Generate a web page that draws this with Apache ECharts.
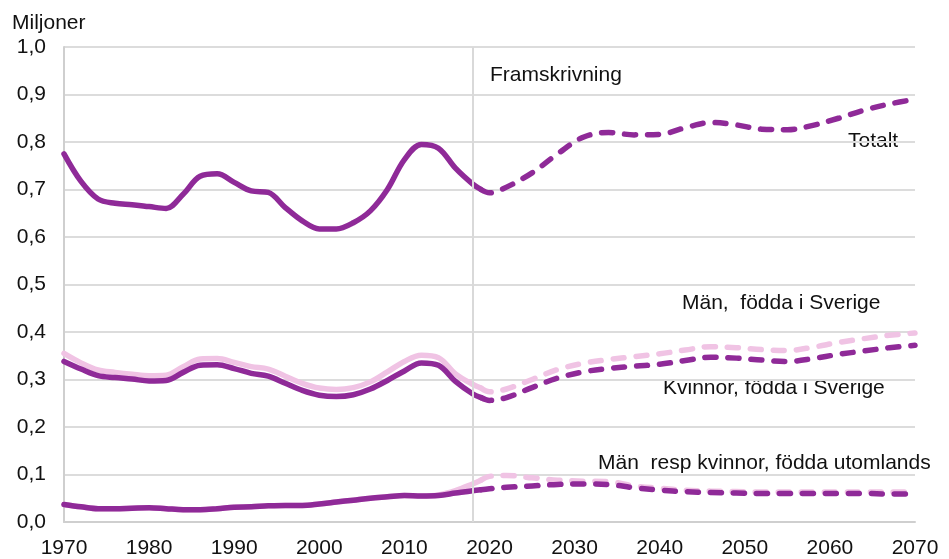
<!DOCTYPE html>
<html>
<head>
<meta charset="utf-8">
<title>Miljoner</title>
<script src="https://cdn.jsdelivr.net/npm/echarts@6/dist/echarts.min.js"></script>
<style>
  html, body { margin: 0; padding: 0; background: #fff; }
  #chart { width: 949px; height: 559px; }
</style>
</head>
<body>
<div id="chart"></div>
<script>
const histYears = [1970, 1972, 1974, 1976, 1978, 1980, 1982, 1984, 1986, 1988, 1990, 1992, 1994, 1996, 1998, 2000, 2002, 2004, 2006, 2008, 2010, 2012, 2014, 2016, 2018, 2019]
const progYears = [2019, 2020, 2022, 2025, 2028, 2031, 2034, 2037, 2040, 2043, 2046, 2049, 2052, 2055, 2058, 2061, 2064, 2067, 2070]

// Totalt
const totalHist = [0.775, 0.717, 0.680, 0.671, 0.668, 0.664, 0.660, 0.690, 0.728, 0.733, 0.715, 0.697, 0.694, 0.662, 0.634, 0.617, 0.617, 0.630, 0.655, 0.700, 0.763, 0.795, 0.787, 0.745, 0.712, 0.700]
const totalProg = [0.700, 0.693, 0.705, 0.735, 0.775, 0.810, 0.820, 0.815, 0.816, 0.830, 0.841, 0.836, 0.827, 0.826, 0.835, 0.850, 0.867, 0.880, 0.890]

// Män, födda i Sverige
const menSweHist = [0.355, 0.335, 0.320, 0.315, 0.311, 0.308, 0.309, 0.327, 0.343, 0.344, 0.336, 0.327, 0.322, 0.307, 0.292, 0.282, 0.279, 0.283, 0.295, 0.316, 0.338, 0.351, 0.346, 0.312, 0.290, 0.282]
const menSweProg = [0.282, 0.274, 0.280, 0.300, 0.321, 0.334, 0.342, 0.348, 0.354, 0.362, 0.369, 0.367, 0.363, 0.361, 0.368, 0.378, 0.386, 0.393, 0.398]

// Kvinnor, födda i Sverige
const womenSweHist = [0.338, 0.322, 0.308, 0.304, 0.301, 0.297, 0.298, 0.315, 0.330, 0.331, 0.323, 0.313, 0.307, 0.292, 0.277, 0.267, 0.264, 0.268, 0.280, 0.298, 0.318, 0.335, 0.330, 0.296, 0.270, 0.262]
const womenSweProg = [0.262, 0.256, 0.262, 0.283, 0.303, 0.316, 0.323, 0.328, 0.332, 0.340, 0.347, 0.345, 0.341, 0.338, 0.344, 0.353, 0.360, 0.367, 0.372]

// Män resp kvinnor, födda utomlands
const menForHist = [0.037, 0.032, 0.028, 0.028, 0.029, 0.030, 0.028, 0.026, 0.026, 0.028, 0.031, 0.032, 0.034, 0.035, 0.035, 0.038, 0.042, 0.046, 0.050, 0.053, 0.056, 0.055, 0.057, 0.066, 0.080, 0.088]
const menForProg = [0.088, 0.096, 0.098, 0.093, 0.088, 0.086, 0.085, 0.076, 0.071, 0.067, 0.065, 0.064, 0.063, 0.063, 0.063, 0.063, 0.063, 0.063, 0.063]
const womenForHist = [0.037, 0.032, 0.028, 0.028, 0.029, 0.030, 0.028, 0.026, 0.026, 0.028, 0.031, 0.032, 0.034, 0.035, 0.035, 0.038, 0.042, 0.046, 0.050, 0.053, 0.056, 0.055, 0.056, 0.061, 0.066, 0.068]
const womenForProg = [0.068, 0.070, 0.073, 0.076, 0.079, 0.080, 0.079, 0.072, 0.067, 0.064, 0.062, 0.061, 0.060, 0.060, 0.060, 0.060, 0.060, 0.059, 0.059]

const xTicks = [1970, 1980, 1990, 2000, 2010, 2020, 2030, 2040, 2050, 2060, 2070]
const prognosisStart = 2018

const DARK = '#8f2a98'
const PINK = '#f0c3e4'
const FONT = "'Liberation Sans', Arial, sans-serif"

function pairs(years, vals) {
  return years.map((y, i) => [y, vals[i]])
}

function makeLine(name, years, vals, color, dashed) {
  return {
    name: name,
    type: 'line',
    smooth: 0.35,
    symbol: 'none',
    silent: true,
    lineStyle: {
      color: color,
      width: 5.5,
      type: dashed ? [11, 12] : 'solid',
      cap: 'round',
      join: 'round'
    },
    data: pairs(years, vals)
  }
}

const series = [
  makeLine('Totalt', histYears, totalHist, DARK, false),
  makeLine('Totalt', progYears, totalProg, DARK, true),
  makeLine('Män, födda i Sverige', histYears, menSweHist, PINK, false),
  makeLine('Män, födda i Sverige', progYears, menSweProg, PINK, true),
  makeLine('Kvinnor, födda i Sverige', histYears, womenSweHist, DARK, false),
  makeLine('Kvinnor, födda i Sverige', progYears, womenSweProg, DARK, true),
  makeLine('Män, födda utomlands', histYears, menForHist, PINK, false),
  makeLine('Män, födda utomlands', progYears, menForProg, PINK, true),
  makeLine('Kvinnor, födda utomlands', histYears, womenForHist, DARK, false),
  makeLine('Kvinnor, födda utomlands', progYears, womenForProg, DARK, true)
]

// vertical separator between history and prognosis
series.unshift({
  type: 'line',
  data: [],
  silent: true,
  markLine: {
    silent: true,
    symbol: 'none',
    label: { show: false },
    lineStyle: { color: '#d9d9d9', width: 2, type: 'solid' },
    data: [{ xAxis: prognosisStart }]
  }
})

const textStyle = { fill: '#111', font: '21px ' + FONT }
function label(text, x, y) {
  return { type: 'text', left: x, top: y, silent: true, style: Object.assign({ text: text }, textStyle) }
}

const chart = echarts.init(document.getElementById('chart'), null, { renderer: 'canvas' })
chart.setOption({
  animation: false,
  backgroundColor: '#fff',
  grid: { left: 64, right: 34, top: 47, bottom: 36 },
  xAxis: {
    type: 'value',
    min: 1970,
    max: 2070,
    interval: 10,
    axisLine: { show: true, lineStyle: { color: '#cfcfcf', width: 2 } },
    axisTick: { show: false },
    splitLine: { show: false },
    axisLabel: {
      color: '#111',
      fontSize: 21,
      fontFamily: FONT,
      margin: 16,
      formatter: v => (xTicks.indexOf(v) >= 0 ? String(v) : '')
    }
  },
  yAxis: {
    type: 'value',
    min: 0,
    max: 1,
    interval: 0.1,
    axisLine: { show: true, lineStyle: { color: '#cfcfcf', width: 2 } },
    axisTick: { show: false },
    splitLine: { show: true, lineStyle: { color: '#dcdcdc', width: 2 } },
    axisLabel: {
      color: '#111',
      fontSize: 21,
      fontFamily: FONT,
      margin: 18,
      formatter: v => v.toFixed(1).replace('.', ',')
    }
  },
  graphic: [
    label('Miljoner', 12, 13),
    label('Framskrivning', 490, 65),
    label('Totalt', 848, 131),
    label('Män,  födda i Sverige', 682, 293),
    label('Kvinnor, födda i Sverige', 663, 378),
    label('Män  resp kvinnor, födda utomlands', 598, 453)
  ],
  series: series
})
</script>
</body>
</html>
